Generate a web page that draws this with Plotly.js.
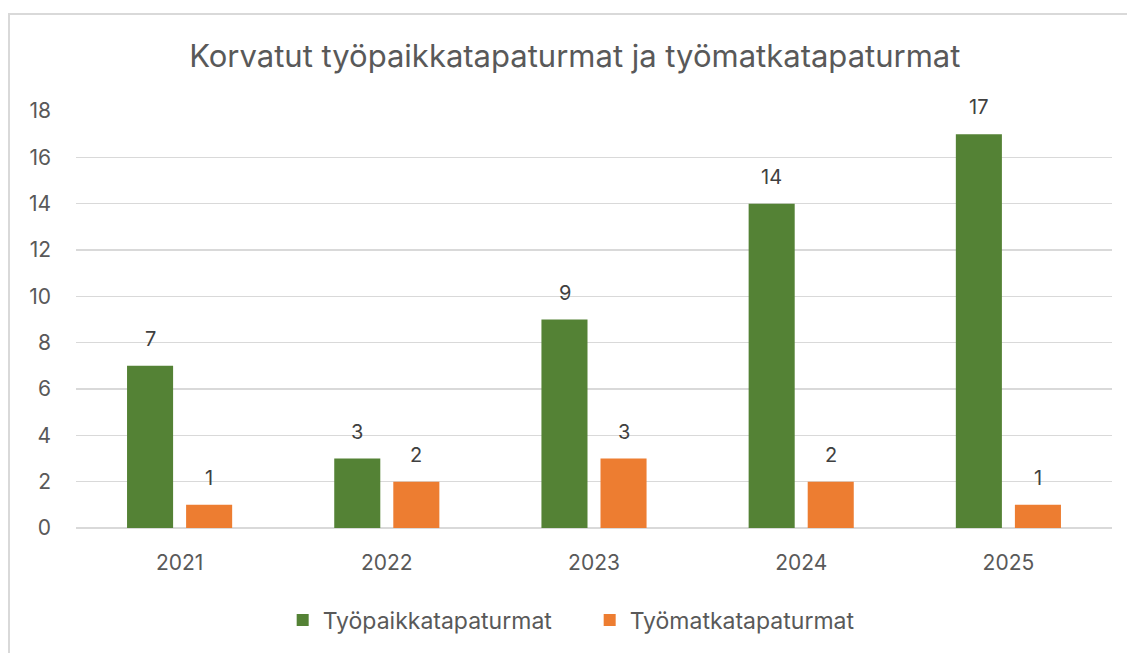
<!DOCTYPE html>
<html>
<head>
<meta charset="utf-8">
<script src="https://cdn.plot.ly/plotly-3.0.1.min.js"></script>
<style>
html,body{margin:0;padding:0;background:#fff;}
#wrap{position:relative;width:1127px;height:653px;overflow:hidden;}
#chart{position:absolute;left:0;top:0;width:1127px;height:653px;}
#frame{position:absolute;left:8px;top:13px;width:1140px;height:660px;border:2px solid #d9d9d9;box-sizing:border-box;pointer-events:none;}
</style>
</head>
<body>
<div id="wrap"><div id="chart"></div><div id="frame"></div></div>
<script>
const years = ['2021', '2022', '2023', '2024', '2025'];
const tyopaikka = [7, 3, 9, 14, 17];
const tyomatka = [1, 2, 3, 2, 1];
const seriesNames = ['Työpaikkatapaturmat', 'Työmatkatapaturmat'];
const chartTitle = 'Korvatut työpaikkatapaturmat ja työmatkatapaturmat';

const FONT = 'Inter, "Noto Sans", sans-serif';
const colors = ['#548235', '#ED7D31'];
const series = [tyopaikka, tyomatka];

const traces = series.map((vals, i) => ({
  type: 'bar',
  name: seriesNames[i],
  x: years,
  y: vals,
  marker: {color: colors[i], line: {width: 0}},
  hoverinfo: 'x+y+name'
}));

const shifts = [-29.5, 29.5];
const annotations = [];
series.forEach((vals, i) => {
  vals.forEach((v, j) => {
    annotations.push({
      x: j, y: v, xref: 'x', yref: 'y',
      text: String(v), showarrow: false,
      xshift: shifts[i], yshift: 13, yanchor: 'bottom',
      font: {family: FONT, size: 20, color: '#404040'}
    });
  });
});

const layout = {
  width: 1127, height: 653,
  margin: {l: 76, r: 15, t: 111, b: 124},
  paper_bgcolor: 'rgba(0,0,0,0)',
  plot_bgcolor: 'rgba(0,0,0,0)',
  title: {
    text: chartTitle, x: 0.51, xanchor: 'center', y: 0.914, yanchor: 'middle',
    font: {family: FONT, size: 31, color: '#595959'}
  },
  barmode: 'group',
  bargap: 0.43,
  bargroupgap: 0.22,
  xaxis: {
    type: 'category', categoryorder: 'array', categoryarray: years,
    range: [-0.5, years.length - 0.5], autorange: false,
    showgrid: false, showline: false, zeroline: false,
    ticks: '', ticklabelstandoff: 20,
    tickfont: {family: FONT, size: 21, color: '#595959'}
  },
  yaxis: {
    range: [0, 18], autorange: false, dtick: 2, tick0: 0,
    showgrid: true, gridcolor: '#d9d9d9', gridwidth: 1.5,
    zeroline: true, zerolinecolor: '#d9d9d9', zerolinewidth: 1.5,
    showline: false, ticks: '', ticklabelstandoff: 24,
    tickfont: {family: FONT, size: 21, color: '#595959'}
  },
  legend: {
    orientation: 'h', x: 0.1995, xanchor: 'left', y: -0.218, yanchor: 'middle',
    font: {family: FONT, size: 23, color: '#595959'},
    itemwidth: 30, entrywidth: 262, entrywidthmode: 'pixels', traceorder: 'normal'
  },
  annotations: annotations,
  showlegend: true
};

Plotly.newPlot('chart', traces, layout, {displayModeBar: false, staticPlot: true});
</script>
</body>
</html>
